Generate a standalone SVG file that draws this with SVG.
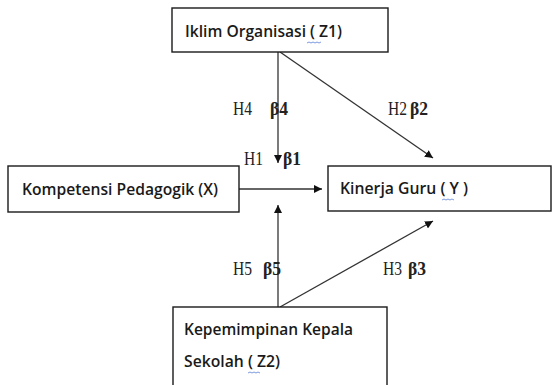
<svg xmlns="http://www.w3.org/2000/svg" width="552" height="385" viewBox="0 0 552 385">
<defs>
<style>
.box{fill:#fff;stroke:#1a1a1a;stroke-width:1.4}
.t{font-family:"Open Sans","Liberation Sans",Arial,sans-serif;font-size:16px;font-weight:600;fill:#1a1a1a}
.l{font-family:"Liberation Serif","Times New Roman",serif;font-size:18px;fill:#222}
.b{font-weight:bold}
.c{stroke:#333;stroke-width:1.3;fill:none}
.sq{stroke:#5b7fd6;stroke-width:0.8;fill:none}
</style>
<marker id="ah" viewBox="0 0 10 10" refX="10" refY="5" markerWidth="8" markerHeight="8" markerUnits="userSpaceOnUse" orient="auto">
<path d="M0,0 L10,5 L0,10 z" fill="#111"/>
</marker>
</defs>
<rect width="552" height="385" fill="#fff"/>
<g id="connectors">
<line class="c" x1="278" y1="52" x2="278" y2="163" marker-end="url(#ah)"/>
<line class="c" x1="280" y1="52" x2="433" y2="158" marker-end="url(#ah)"/>
<line class="c" x1="239" y1="189" x2="322" y2="189" marker-end="url(#ah)"/>
<line class="c" x1="278" y1="307" x2="278" y2="205" marker-end="url(#ah)"/>
<line class="c" x1="280" y1="307" x2="433" y2="221" marker-end="url(#ah)"/>
</g>
<g id="labels">
<text class="l" x="233" y="115" textLength="19" lengthAdjust="spacingAndGlyphs">H4</text><text class="l b" x="270" y="115" textLength="18" lengthAdjust="spacingAndGlyphs">β4</text>
<text class="l" x="388" y="115" textLength="19" lengthAdjust="spacingAndGlyphs">H2</text><text class="l b" x="410" y="115" textLength="18" lengthAdjust="spacingAndGlyphs">β2</text>
<text class="l" x="244" y="165" textLength="19" lengthAdjust="spacingAndGlyphs">H1</text><text class="l b" x="283" y="165" textLength="18" lengthAdjust="spacingAndGlyphs">β1</text>
<text class="l" x="233" y="275" textLength="19" lengthAdjust="spacingAndGlyphs">H5</text><text class="l b" x="263" y="275" textLength="18" lengthAdjust="spacingAndGlyphs">β5</text>
<text class="l" x="383" y="275" textLength="19" lengthAdjust="spacingAndGlyphs">H3</text><text class="l b" x="408" y="275" textLength="18" lengthAdjust="spacingAndGlyphs">β3</text>
</g>
<g id="z1">
<rect class="box" x="172" y="8" width="216" height="44"/>
<text class="t" x="185" y="37" textLength="157" lengthAdjust="spacingAndGlyphs">Iklim Organisasi ( Z1)</text>
<path class="sq" d="M307,43 l2,-1 l2,1 l2,-1 l2,1 l2,-1 l2,1 l2,-1"/>
</g>
<g id="x">
<rect class="box" x="8" y="166" width="231" height="46"/>
<text class="t" x="22" y="195" textLength="196" lengthAdjust="spacingAndGlyphs">Kompetensi Pedagogik (X)</text>
</g>
<g id="y">
<rect class="box" x="328" y="166" width="223" height="45"/>
<text class="t" x="340" y="194" textLength="128" lengthAdjust="spacingAndGlyphs">Kinerja Guru ( Y )</text>
<path class="sq" d="M442,200 l2,-1 l2,1 l2,-1 l2,1 l2,-1 l2,1"/>
</g>
<g id="z2">
<rect class="box" x="173" y="307" width="214" height="90"/>
<text class="t" x="184" y="335" textLength="169" lengthAdjust="spacingAndGlyphs">Kepemimpinan Kepala</text>
<text class="t" x="184" y="367" textLength="96" lengthAdjust="spacingAndGlyphs">Sekolah ( Z2)</text>
<path class="sq" d="M248,373 l2,-1 l2,1 l2,-1 l2,1 l2,-1 l2,1"/>
</g>
</svg>
